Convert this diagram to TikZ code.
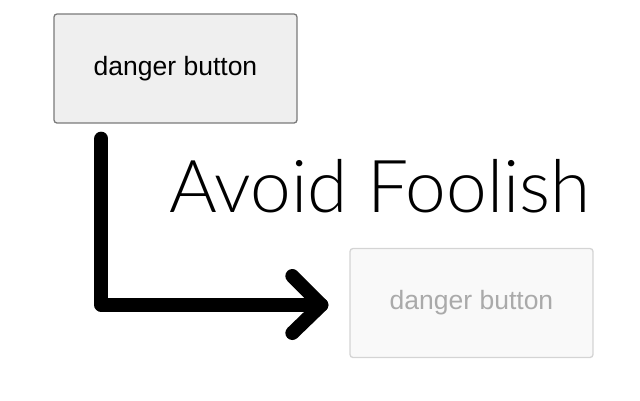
\documentclass[tikz,border=0pt]{standalone}
\usepackage{fontspec}
\setmainfont{Liberation Sans}
\newfontfamily\thinfont{Lato}[UprightFont=* Light]
\usepackage{xcolor}
\usepackage{tikz}
\usetikzlibrary{positioning,calc}
\definecolor{btnfill}{HTML}{EFEFEF}
\definecolor{btnline}{HTML}{7A7A7A}
\definecolor{offfill}{HTML}{F9F9F9}
\definecolor{offline}{HTML}{D4D4D4}
\definecolor{offtext}{HTML}{AAAAAA}

\begin{document}
\begin{tikzpicture}[x=1pt,y=1pt]
			\tikzset{button/.style={draw=btnline,fill=btnfill,line width=1.3pt,rounded corners=3pt,minimum width=243pt,minimum height=109pt,font=\fontsize{26.5}{30}\selectfont}}
			\tikzset{offbutton/.style={button,draw=offline,fill=offfill,text=offtext}}
%			\tikzset{arrowline/.style={line width=14pt}}
			\useasboundingbox (0,0) rectangle (640,-400);
			\node[button] (danger) at (175.5,-68.5) {danger button};
			\node[offbutton] (faded) at (471.5,-303) {danger button};
			\node[anchor=base west,font=\thinfont\fontsize{73}{84}\selectfont] (avoid) at (166,-212) {Avoid Foolish};
			\coordinate (start) at ($(danger.south west)+(48,-15)$);
			\coordinate (tip) at ($(faded.west)+(-28,-2)$);
			\draw[line width=14pt,line cap=round,line join=round] (start) |- (tip);
			\draw[line width=14pt,line cap=round,line join=round] ($(tip)+(-29,29)$) -- (tip) -- ($(tip)+(-29,-28)$);
		\end{tikzpicture}
\end{document}
